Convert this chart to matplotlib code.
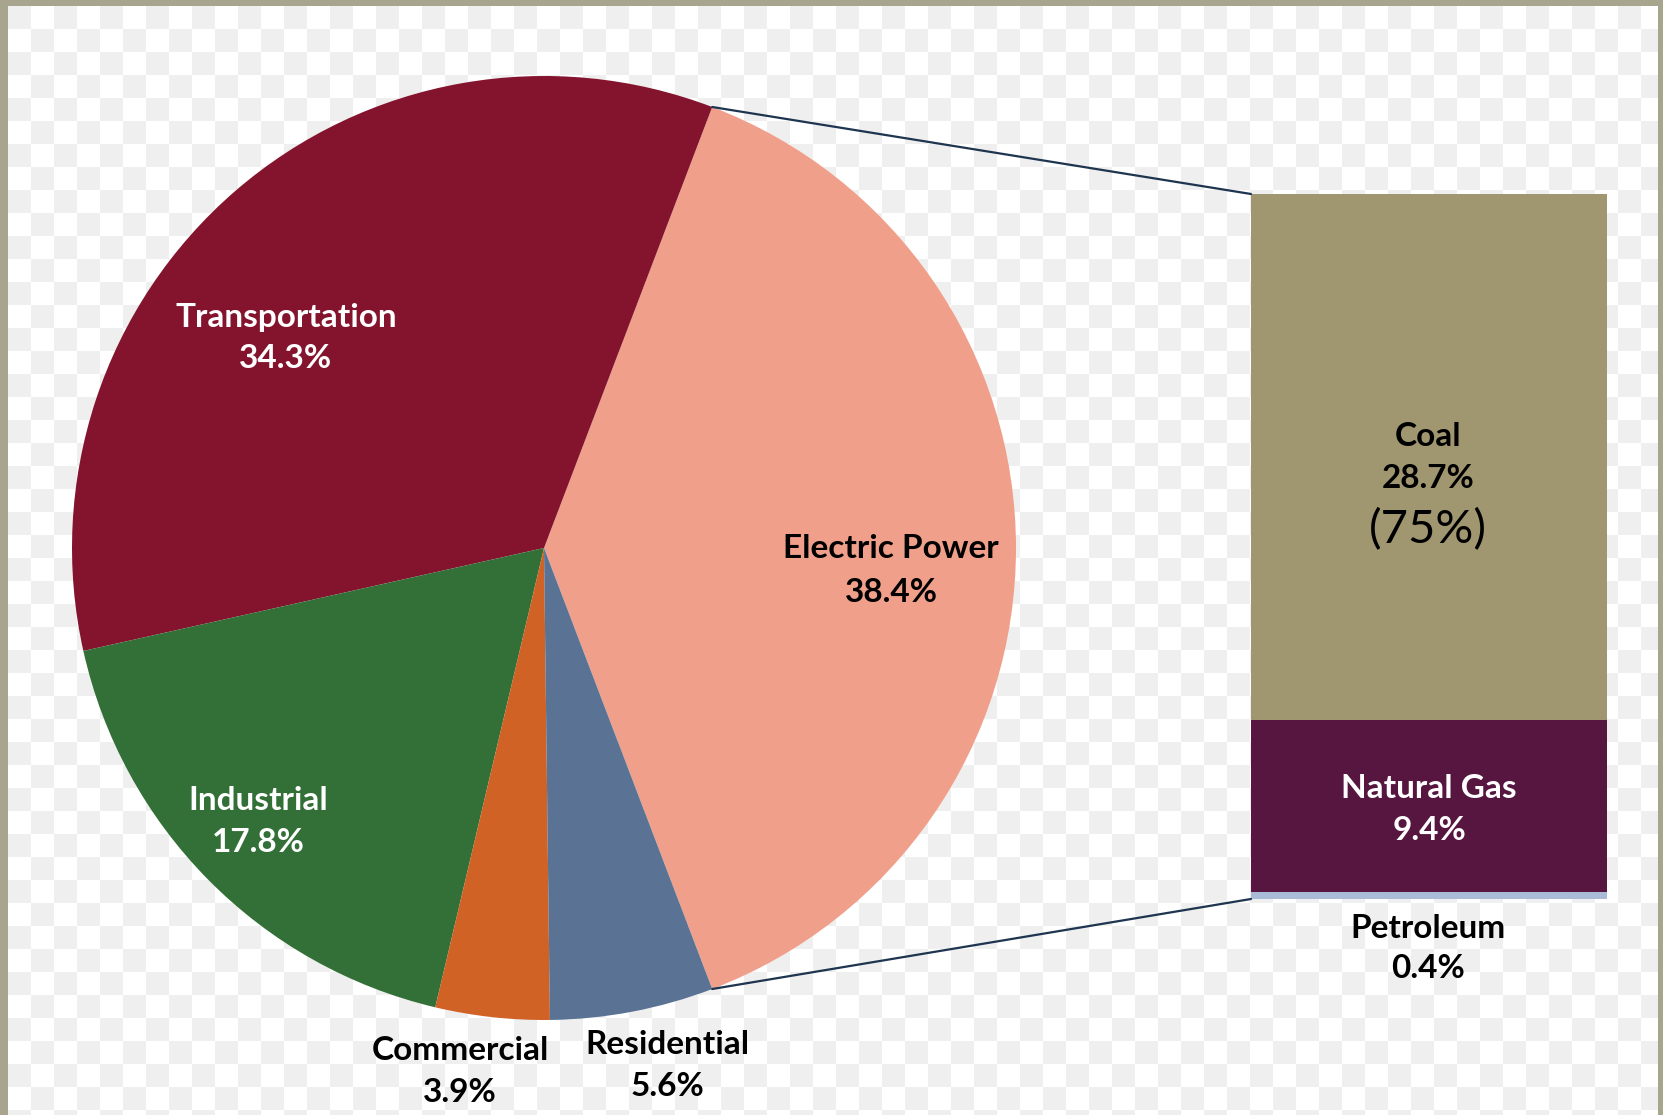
import matplotlib.pyplot as plt
import numpy as np
from matplotlib.colors import ListedColormap
from matplotlib.patches import ConnectionPatch, Rectangle

# sectors, counter-clockwise starting with Electric Power on the right
sectors = ['Electric Power', 'Transportation', 'Industrial', 'Commercial', 'Residential']
shares = [38.4, 34.3, 17.8, 3.9, 5.6]
sector_colors = ['#f0a08a', '#84142d', '#337038', '#d06226', '#5a7394']

# breakdown of electric power, stacked from the bottom
sources = ['Petroleum', 'Natural Gas', 'Coal']
source_shares = [0.4, 9.4, 28.7]
source_colors = ['#a9bbd6', '#561640', '#a09670']

W, H = 1663, 1115
fig = plt.figure(figsize=(W / 100, H / 100), dpi=100)

# checkerboard background + frame
ax_bg = fig.add_axes([0, 0, 1, 1], zorder=-5)
sq = 23
cols, rows = W // sq + 2, H // sq + 2
board = np.add.outer(np.arange(rows), np.arange(cols)) % 2
ax_bg.imshow(board, cmap=ListedColormap(['#efefef', '#ffffff']), interpolation='nearest',
             extent=[8 - sq, 8 - sq + cols * sq, 6 - sq + rows * sq, 6 - sq], aspect='auto')
frame = '#a8a58e'
ax_bg.add_patch(Rectangle((0, 0), 8, H, color=frame, lw=0))
ax_bg.add_patch(Rectangle((0, 0), W, 6, color=frame, lw=0))
ax_bg.add_patch(Rectangle((W - 5, 0), 5, H, color=frame, lw=0))
ax_bg.set_xlim(0, W)
ax_bg.set_ylim(H, 0)
ax_bg.axis('off')


def fig_box(x0, y0, x1, y1):
    return [x0 / W, 1 - y1 / H, (x1 - x0) / W, (y1 - y0) / H]


# pie
cx, cy, r = 544, 548, 472
ax_pie = fig.add_axes(fig_box(cx - r, cy - r, cx + r, cy + r))
wedges, _ = ax_pie.pie(shares, colors=sector_colors, startangle=-shares[0] * 1.8,
                       counterclock=True, wedgeprops=dict(linewidth=0))
ax_pie.set_xlim(-1, 1)
ax_pie.set_ylim(-1, 1)
ax_pie.axis('off')

# stacked bar
ax_bar = fig.add_axes(fig_box(1251, 194, 1607, 899))
bottom = 0
for v, c in zip(source_shares, source_colors):
    ax_bar.bar(0, v, width=1, bottom=bottom, color=c, linewidth=0)
    bottom += v
ax_bar.set_xlim(-0.5, 0.5)
ax_bar.set_ylim(0, bottom)
ax_bar.axis('off')

# connector lines
t1, t2 = np.radians(wedges[0].theta1), np.radians(wedges[0].theta2)
for ang, ybar in [(t2, bottom), (t1, 0)]:
    con = ConnectionPatch(xyA=(-0.5, ybar), coordsA=ax_bar.transData,
                          xyB=(np.cos(ang), np.sin(ang)), coordsB=ax_pie.transData,
                          color='#1e3550', linewidth=1.6)
    fig.add_artist(con)

# labels
font = dict(family='Lato', weight='bold', fontsize=24, ha='center', va='center')


def label(x, y1, y2, name, pct, color):
    fig.text(x / W, 1 - y1 / H, name, color=color, **font)
    fig.text(x / W, 1 - y2 / H, pct, color=color, **font)


label(286, 318, 358, 'Transportation', '34.3%', 'white')
label(891, 549, 592, 'Electric Power', '38.4%', 'black')
label(258, 801, 843, 'Industrial', '17.8%', 'white')
label(460, 1051, 1092, 'Commercial', '3.9%', 'black')
label(667, 1045, 1086, 'Residential', '5.6%', 'black')
label(1428, 437, 479, 'Coal', '28.7%', 'black')
label(1429, 789, 830, 'Natural Gas', '9.4%', 'white')
label(1428, 929, 969, 'Petroleum', '0.4%', 'black')
fig.text(1428 / W, 1 - 530 / H, '(75%)', family='Lato', fontsize=34,
         ha='center', va='center', color='black')

fig.savefig('out.png', dpi=100)
